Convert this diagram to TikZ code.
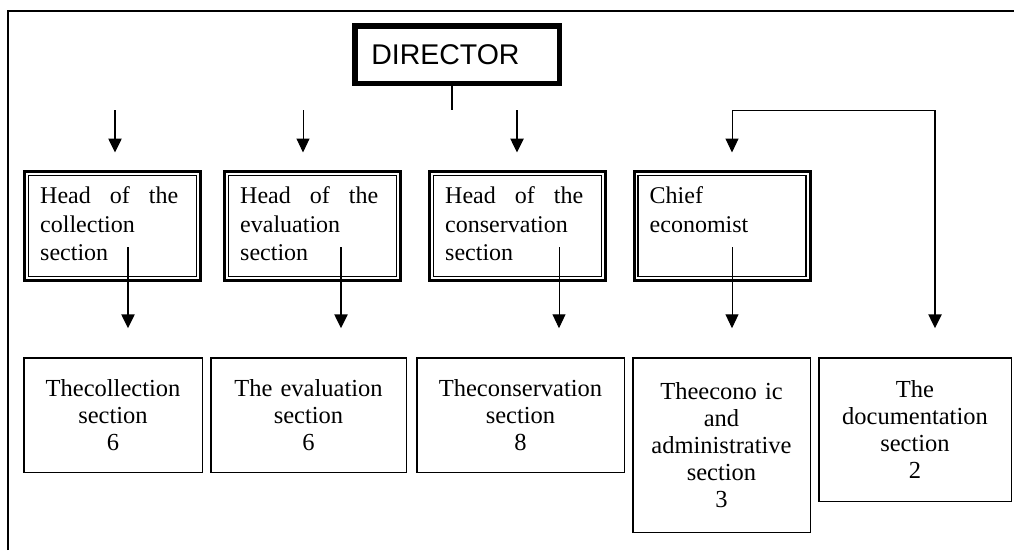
\documentclass[tikz,border=0pt]{standalone}
\usepackage{fontspec}
\setmainfont{Liberation Serif}
\newfontfamily\dirfont{Liberation Sans}
\usetikzlibrary{arrows.meta,positioning}
\tikzset{>={Triangle[length=14pt,width=13pt]}}
\tikzset{
  dirbox/.style={draw, line width=4.5pt, text width=171.5pt, inner xsep=17pt, inner ysep=0pt,
    minimum height=58.5pt, align=left, font=\dirfont\fontsize{28.5}{30}\selectfont},
  headbox/.style={draw, line width=3pt, minimum width=176pt, minimum height=109pt, inner sep=0pt},
  headtext/.style={anchor=base west, text width=140pt, align=left, inner sep=0pt,
    font=\fontsize{24}{28.5}\selectfont},
  sectbox/.style={draw, line width=1.5pt, align=center, inner sep=0pt,
    font=\fontsize{24.5}{27}\selectfont},
  thickarrow/.style={->, line width=2.5pt},
  thinarrow/.style={->, line width=1pt},
}
\newcommand{\spreadline}[1]{\makebox[138pt][l]{#1}}

\begin{document}
\begin{tikzpicture}[x=1pt,y=-1pt]
      \useasboundingbox (0,0) rectangle (1014,550);
      % frame, only top and left edge are visible
      \draw[line width=2pt] (8,550) -- (8,11) -- (1014,11);

      \node[dirbox] (dir) at (457,54.5) {DIRECTOR};
      \draw[line width=1pt] ([shift={(5,5)}]dir.north west) rectangle ([shift={(-5,-5)}]dir.south east);

      % heads
      \node[headbox] (hcol) at (112.5,226) {};
      \node[headbox] (heva) at (312.5,226) {};
      \node[headbox] (hcon) at (517.5,226) {};
      \node[headbox] (heco) at (722,226) {};
      \foreach \n in {hcol,heva,hcon,heco}
        \draw[line width=1.2pt] ([shift={(5.5,5.5)}]\n.north west) rectangle ([shift={(-5.5,-5.5)}]\n.south east);
      \node[headtext] (tcol) at ([shift={(17,33.5)}]hcol.north west) {\spreadline{Head\hfill of\hfill the}\\collection\\section};
      \node[headtext] (teva) at ([shift={(17,33.5)}]heva.north west) {\spreadline{Head\hfill of\hfill the}\\evaluation\\section};
      \node[headtext] (tcon) at ([shift={(17,33.5)}]hcon.north west) {\spreadline{Head\hfill of\hfill the}\\conservation\\section};
      \node[headtext] (teco) at ([shift={(17,33.5)}]heco.north west) {Chief\\economist};

      % sections
      \node[sectbox, minimum width=178.5pt, minimum height=114.5pt, text width=170pt] (scol) at (113,415) {Thecollection\\section\\6};
      \node[sectbox, minimum width=195.5pt, minimum height=114.5pt, text width=188pt] (seva) at (308.5,415) {The evaluation\\section\\6};
      \node[sectbox, minimum width=207.5pt, minimum height=114.5pt, text width=200pt] (scon) at (520.5,415) {Theconservation\\section\\8};
      \node[sectbox, minimum width=177.5pt, minimum height=174.5pt, text width=170pt] (seco) at (721.5,445) {Theecono ic\\and\\administrative\\section\\3};
      \node[sectbox, minimum width=192.5pt, minimum height=143.5pt, text width=185pt] (sdoc) at (915,429.5) {The\\documentation\\section\\2};

      % director stub
      \coordinate (stub) at (452,110);
      \draw[line width=1.5pt] (stub |- dir.south) -- (stub);

      % arrows into the heads
      \coordinate (a1) at (115,110);
      \coordinate (a2) at (303,110);
      \coordinate (a3) at (517,110);
      \coordinate (a4) at (732,110);
      \coordinate (a5) at (935,110);
      \draw[thickarrow, shorten >=17.5pt] (a1) -- (a1 |- hcol.north);
      \draw[thinarrow, shorten >=17.5pt] (a2) -- (a2 |- heva.north);
      \draw[thickarrow, shorten >=17.5pt] (a3) -- (a3 |- hcon.north);
      \draw[thinarrow, shorten >=17.5pt] (a4) -- (a4 |- heco.north);
      \draw[line width=1pt] (a4) -- (a5);
      \draw[thickarrow, shorten >=28.75pt] (a5) -- (a5 |- sdoc.north);

      % arrows from heads to sections
      \coordinate (b1) at (128,247);
      \coordinate (b2) at (341,247);
      \coordinate (b3) at (559,247);
      \coordinate (b4) at (732,247);
      \foreach \b/\s/\w in {b1/scol/thickarrow, b2/seva/thickarrow, b3/scon/thinarrow, b4/seco/thinarrow}
        \draw[\w, shorten >=28.75pt] (\b) -- (\b |- \s.north);
\end{tikzpicture}
\end{document}
